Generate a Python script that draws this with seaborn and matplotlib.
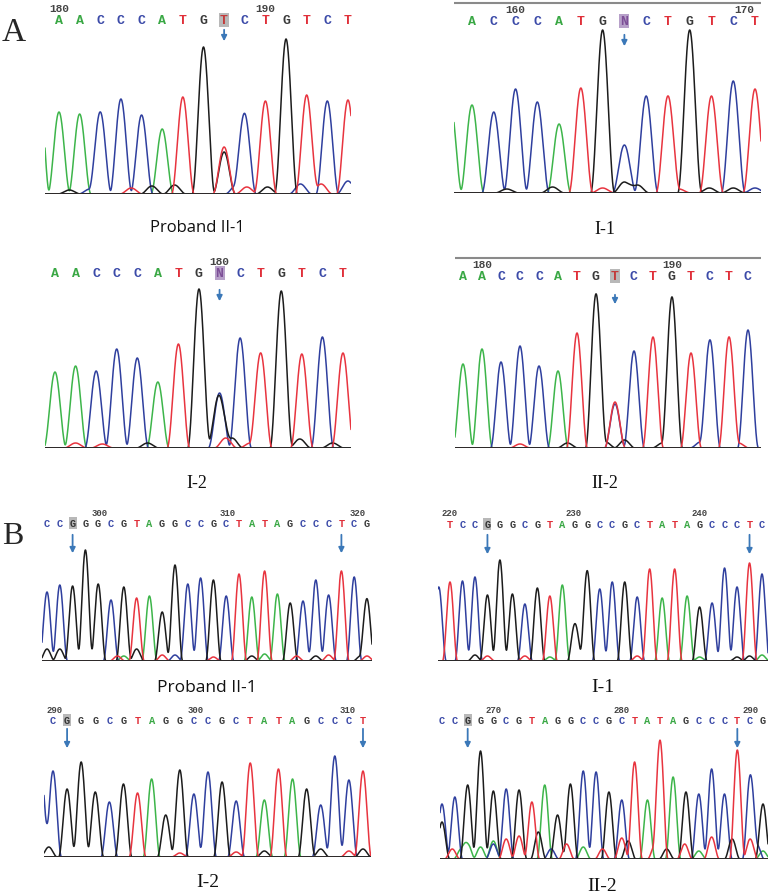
import numpy as np
import pandas as pd
import matplotlib
matplotlib.use("Agg")
import matplotlib.pyplot as plt
import seaborn as sns

# ---- base calls, peak heights (signal units above baseline) and position labels ----
a1_seq = "AACCCATGTCTGTCT"
a1_peaks = [82, 80, 82, 95, 79, 65, 97, 147, 47, 79, 93, 155, 99, 93, 94]
a1_minor = [(-1, "A", 125), (8, "G", 42), (3.5, "T", 6), (4.5, "G", 8), (5.6, "G", 9),
            (1.5, "C", 5), (8.6, "C", 9), (9.1, "T", 7), (10.1, "G", 7), (11.7, "C", 10),
            (12.7, "T", 10), (14, "C", 13), (0.5, "G", 4)]
a1_nums = [(180, 0), (190, 10)]

a2_seq = "ACCCATGNCTGTCT"
a2_peaks = [88, 81, 104, 91, 69, 105, 163, 48, 97, 97, 163, 97, 112, 104]
a2_minor = [(-1, "A", 91), (7, "G", 11), (7.6, "G", 8), (6, "T", 5), (3.7, "G", 6),
            (10.9, "G", 5), (13, "C", 5), (1.6, "G", 4), (9.5, "T", 4), (12, "G", 5)]
a2_nums = [(160, 2), (170, 12.5)]

a3_seq = "AACCCATGNCTGTCT"
a3_peaks = [76, 82, 77, 99, 90, 66, 104, 159, 55, 110, 95, 157, 94, 111, 95]
a3_minor = [(8, "G", 49), (8.3, "T", 10), (7.7, "G", 8), (8.6, "G", 10), (11.9, "G", 9),
            (1, "T", 5), (2.3, "T", 4), (4.5, "G", 5), (13.5, "G", 5), (9.5, "T", 5)]
a3_nums = [(180, 8)]

a4_seq = "AACCCATGTCTGTCTC"
a4_peaks = [84, 99, 86, 102, 82, 77, 115, 154, 46, 97, 111, 151, 95, 108, 111, 118]
a4_minor = [(8, "C", 44), (7.5, "G", 6), (8.5, "G", 8), (3, "T", 4), (5.5, "G", 5),
            (10.5, "G", 5), (12.5, "C", 6), (14.5, "T", 5)]
a4_nums = [(180, 1), (190, 11)]

b1_seq = "CCGGGCGTAGGCCGCTATAGCCCTCG"
b1_peaks = [69, 76, 75, 111, 77, 61, 74, 63, 65, 49, 96, 77, 83, 81, 65, 87, 64, 90, 67,
            58, 60, 81, 66, 90, 84, 62]
b1_minor = [(0, "G", 12), (1, "G", 12), (5.5, "T", 5), (6, "A", 5), (7, "G", 12),
            (9, "T", 6), (10, "C", 6), (13, "T", 4), (16, "G", 5), (17, "A", 7),
            (19.5, "T", 5), (21, "G", 5), (22, "T", 6), (24.5, "G", 5), (25, "T", 5)]
b1_nums = [(300, 4.1), (310, 14.1), (320, 24.3)]

b2_seq = "TCCGGGCGTAGGCCGCTATAGCCCTC"
b2_peaks = [79, 80, 84, 66, 101, 62, 57, 73, 65, 76, 37, 90, 67, 79, 79, 64, 92, 57, 92,
            65, 54, 58, 93, 74, 98, 87]
b2_minor = [(-0.9, "C", 74), (2, "G", 6), (3, "T", 5), (5, "G", 5), (6, "T", 5), (8, "A", 4),
            (10.5, "G", 5), (12, "C", 5), (15, "T", 5), (17, "A", 6), (20, "A", 4),
            (23, "G", 4), (24, "G", 5), (25, "A", 6)]
b2_nums = [(220, 0), (230, 9.9), (240, 20)]

b3_seq = "CGGGCGTAGGCCGCTATAGCCCT"
b3_peaks = [86, 68, 95, 65, 55, 73, 58, 73, 42, 87, 63, 85, 75, 56, 86, 57, 88, 78, 63,
            52, 101, 77, 86]
b3_minor = [(-0.85, "C", 85), (-0.3, "G", 10), (6, "T", 6), (7, "A", 5), (9, "T", 4),
            (13, "T", 5), (14, "T", 8), (15, "G", 6), (18, "G", 5), (19, "G", 8),
            (21, "T", 6), (22, "G", 8)]
b3_nums = [(290, 0.1), (300, 10.1), (310, 20.9)]

b4_seq = "CCGGGCGTAGGCCGCTATAGCCCTCG"
b4_peaks = [55, 62, 74, 108, 68, 70, 69, 57, 74, 44, 75, 88, 87, 67, 59, 97, 59, 115, 82,
            67, 65, 90, 65, 109, 83, 55]
b4_minor = [(0, "G", 37), (0.8, "T", 10), (1.5, "A", 10), (2, "A", 15), (3, "A", 12),
            (4, "A", 18), (4, "C", 15), (5, "T", 20), (6, "T", 23), (7.5, "G", 27),
            (8.5, "C", 10), (9.7, "T", 15), (11, "A", 12), (12.5, "T", 10), (14, "T", 21),
            (14.5, "G", 18), (16.6, "T", 14), (17.5, "G", 10), (18.9, "T", 15), (20, "A", 8),
            (21, "T", 22), (22.6, "G", 20), (24, "T", 20), (24.5, "C", 15), (25, "A", 8)]
b4_nums = [(270, 4), (280, 14), (290, 24)]

labels = ["Proband II-1", "I-1", "I-2", "II-2", "Proband II-1", "I-1", "I-2", "II-2"]

W, H = 771, 895
trace_col = {"A": "#3db54a", "C": "#2f3f9e", "G": "#1c1c1c", "T": "#e8343f"}
letter_col = {"A": "#3aa845", "C": "#3b4aa8", "G": "#3a3a3a", "T": "#e0303a", "N": "#8e5aa5"}
arrow_col = "#3b78b8"

sns.set_style("white")
plt.rcParams["font.family"] = ["DejaVu Sans"]

# layout: pixel box of each trace, first base x, base spacing, text rows
panels = [
    dict(seq=a1_seq, peaks=a1_peaks, minor=a1_minor, nums=a1_nums, x0=45, x1=351, top=2, base=195,
         first=59, step=20.64, let_y=21, num_y=9, arr=(28, 45), arr_i=[8], hl=8, hl_kind="gray",
         lab=(197, 228, "sans", 12), rule=None, big=True, w=0.55),
    dict(seq=a2_seq, peaks=a2_peaks, minor=a2_minor, nums=a2_nums, x0=454, x1=761, top=2, base=194,
         first=472, step=21.77, let_y=22, num_y=10, arr=(33, 50), arr_i=[7], hl=7, hl_kind="purple",
         lab=(605, 230, "serif", 13), rule=4, big=True, w=0.55),
    dict(seq=a3_seq, peaks=a3_peaks, minor=a3_minor, nums=a3_nums, x0=45, x1=351, top=255, base=449,
         first=55, step=20.57, let_y=274, num_y=262, arr=(288, 305), arr_i=[8], hl=8, hl_kind="purple",
         lab=(197, 483, "serif", 13), rule=None, big=True, w=0.55),
    dict(seq=a4_seq, peaks=a4_peaks, minor=a4_minor, nums=a4_nums, x0=455, x1=761, top=255, base=449,
         first=463, step=19.0, let_y=277, num_y=265, arr=(293, 308), arr_i=[8], hl=8, hl_kind="gray",
         lab=(605, 483, "serif", 13), rule=259, big=True, w=0.55),
    dict(seq=b1_seq, peaks=b1_peaks, minor=b1_minor, nums=b1_nums, x0=42, x1=372, top=505, base=662,
         first=47, step=12.8, let_y=524, num_y=514, arr=(533, 557), arr_i=[2, 23], hl=2, hl_kind="gray",
         lab=(207, 688, "sans", 12.5), rule=None, big=False, w=0.6),
    dict(seq=b2_seq, peaks=b2_peaks, minor=b2_minor, nums=b2_nums, x0=438, x1=768, top=505, base=662,
         first=450, step=12.48, let_y=525, num_y=514, arr=(533, 558), arr_i=[3, 24], hl=3, hl_kind="gray",
         lab=(603, 688, "serif", 14), rule=None, big=False, w=0.6),
    dict(seq=b3_seq, peaks=b3_peaks, minor=b3_minor, nums=b3_nums, x0=44, x1=371, top=702, base=858,
         first=53, step=14.09, let_y=721, num_y=711, arr=(727, 752), arr_i=[1, 22], hl=1, hl_kind="gray",
         lab=(208, 883, "serif", 14), rule=None, big=False, w=0.6),
    dict(seq=b4_seq, peaks=b4_peaks, minor=b4_minor, nums=b4_nums, x0=440, x1=768, top=702, base=860,
         first=442, step=12.84, let_y=721, num_y=711, arr=(727, 752), arr_i=[2, 23], hl=2, hl_kind="gray",
         lab=(602, 887, "serif", 14), rule=None, big=False, w=0.6),
]


def trace_frame(seq, peaks, minor, xs, w):
    # sum of peak shapes per dye channel
    rows = []
    pk = [(i, b if b != "N" else "C", h) for i, (b, h) in enumerate(zip(seq, peaks))] + list(minor)
    for ch in "ACGT":
        sig = np.zeros_like(xs)
        for pos, b, h in pk:
            if b != ch:
                continue
            d = np.abs(xs - pos)
            sig += np.where(d < w, h * np.cos(np.pi * d / (2 * w)) ** 2, 0.0)
        rows.append(pd.DataFrame({"x": xs, "signal": sig, "dye": ch}))
    return pd.concat(rows, ignore_index=True)


fig = plt.figure(figsize=(W / 100, H / 100), dpi=100)

for p, lab_text in zip(panels, labels):
    ax = fig.add_axes([p["x0"] / W, 1 - p["base"] / H, (p["x1"] - p["x0"]) / W, (p["base"] - p["top"]) / H])
    xlo = (p["x0"] - p["first"]) / p["step"]
    xhi = (p["x1"] - p["first"]) / p["step"]
    xs = np.linspace(xlo, xhi, 1600)
    df = trace_frame(p["seq"], p["peaks"], p["minor"], xs, p["w"])
    sns.lineplot(data=df, x="x", y="signal", hue="dye", hue_order=["A", "C", "G", "T"],
                 palette=trace_col, estimator=None, sort=False, legend=False, lw=1.1, ax=ax)
    ax.set_xlim(xlo, xhi)
    ax.set_ylim(0, p["base"] - p["top"])
    ax.axhline(0, color="#2a2a2a", lw=1.4, zorder=5)
    if p["rule"] is not None:
        ax.axhline(p["base"] - p["rule"], color="#8a8a8a", lw=1.5)
    ax.axis("off")

    fs_let = 9.5 if p["big"] else 7.5
    fs_num = 8 if p["big"] else 6.5
    ly = p["base"] - p["let_y"]
    for i, ch in enumerate(p["seq"]):
        kw = {}
        col = letter_col[ch]
        if i == p["hl"]:
            if p["hl_kind"] == "purple":
                kw["bbox"] = dict(boxstyle="square,pad=0.08", fc="#b7a0c9", ec="none")
                col = "#7d4f97"
            else:
                kw["bbox"] = dict(boxstyle="square,pad=0.08", fc="#b8b8b8", ec="none")
                col = "#c23a3a" if ch == "T" else "#333333"
        ax.text(i, ly, ch, ha="center", va="center", color=col, fontsize=fs_let,
                family="Liberation Mono", weight="bold", **kw)
    for num, pos in p["nums"]:
        ax.text(pos, p["base"] - p["num_y"], str(num), ha="center", va="center",
                color="#444444", fontsize=fs_num, family="Liberation Mono", weight="bold")
    for i in p["arr_i"]:
        ax.annotate("", xy=(i, p["base"] - p["arr"][1]), xytext=(i, p["base"] - p["arr"][0]),
                    arrowprops=dict(arrowstyle="-|>", color=arrow_col, lw=1.3, mutation_scale=8),
                    annotation_clip=False)

    lx, lyy, fam, fs = p["lab"]
    family = ["Open Sans", "DejaVu Sans"] if fam == "sans" else ["Liberation Serif", "DejaVu Serif"]
    fig.text(lx / W, 1 - lyy / H, lab_text, ha="center", va="center", fontsize=fs,
             family=family, color="#111111")

fig.text(14 / W, 1 - 33 / H, "A", ha="center", va="center", fontsize=24,
         family=["Liberation Serif", "DejaVu Serif"])
fig.text(13 / W, 1 - 537 / H, "B", ha="center", va="center", fontsize=23,
         family=["Liberation Serif", "DejaVu Serif"])

fig.savefig("out.png", dpi=100)
